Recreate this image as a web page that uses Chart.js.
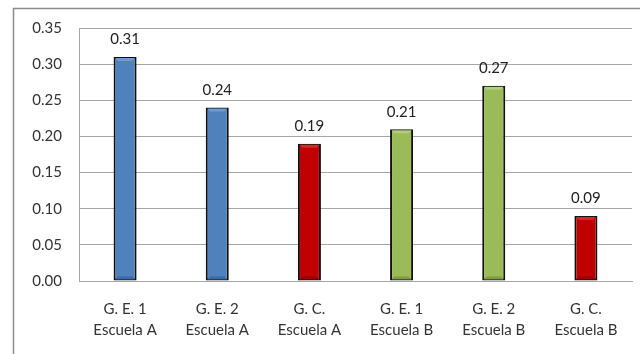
<!DOCTYPE html>
<html>
<head>
<meta charset="utf-8">
<script src="https://cdn.jsdelivr.net/npm/chart.js@4/dist/chart.umd.min.js"></script>
<style>
  html, body { margin: 0; padding: 0; background: #fff; }
  #wrap { position: relative; width: 640px; height: 354px; }
</style>
</head>
<body>
<div id="wrap"><canvas id="c" width="640" height="354"></canvas></div>
<script>
// Groups (two-line labels) and their measured proportions
const groups = [
  ['G. E. 1', 'Escuela A'],
  ['G. E. 2', 'Escuela A'],
  ['G. C.', 'Escuela A'],
  ['G. E. 1', 'Escuela B'],
  ['G. E. 2', 'Escuela B'],
  ['G. C.', 'Escuela B']
];
const values = [0.31, 0.24, 0.19, 0.21, 0.27, 0.09];
const groupKind = ['blue', 'blue', 'red', 'green', 'green', 'red'];

const palette = {
  blue:  { mid: '#4F81BD', edge: '#3A6AA8', light: '#6E9AD3' },
  red:   { mid: '#C00000', edge: '#9A0000', light: '#D22A2A' },
  green: { mid: '#9BBB59', edge: '#7E9C42', light: '#B2CE78' }
};

const FONT = 'Lato, "Open Sans", sans-serif';

// Horizontal gradient per bar, giving a soft bevelled look
function barFill(ctx) {
  const el = ctx.element;
  const kind = palette[groupKind[ctx.dataIndex]];
  if (!el || el.width === undefined || !isFinite(el.x)) return kind.mid;
  const g = ctx.chart.ctx.createLinearGradient(el.x - el.width / 2, 0, el.x + el.width / 2, 0);
  g.addColorStop(0, kind.edge);
  g.addColorStop(0.18, kind.mid);
  g.addColorStop(0.82, kind.mid);
  g.addColorStop(1, kind.edge);
  return g;
}

// Frame around the chart (left and top edges)
const framePlugin = {
  id: 'frame',
  beforeDraw(chart) {
    const c = chart.ctx;
    c.save();
    c.strokeStyle = '#8c8c8c';
    c.lineWidth = 1.5;
    c.beginPath();
    c.moveTo(13.5, 354);
    c.lineTo(13.5, 8.5);
    c.lineTo(640, 8.5);
    c.stroke();
    c.restore();
  }
};

// Value labels above each bar, plus top/bottom bevel shading
const labelPlugin = {
  id: 'valueLabels',
  afterDatasetsDraw(chart) {
    const c = chart.ctx;
    const meta = chart.getDatasetMeta(0);
    c.save();
    meta.data.forEach((bar, i) => {
      const kind = palette[groupKind[i]];
      const x0 = bar.x - bar.width / 2 + 1.5, x1 = bar.x + bar.width / 2 - 1.5;
      // light cap at the top
      c.fillStyle = kind.light;
      c.beginPath();
      c.moveTo(x0, bar.y + 1);
      c.lineTo(x1, bar.y + 1);
      c.lineTo(x1 - 3, bar.y + 4);
      c.lineTo(x0 + 3, bar.y + 4);
      c.closePath();
      c.fill();
      // darker foot at the base
      c.fillStyle = kind.edge;
      c.beginPath();
      c.moveTo(x0, bar.base - 1);
      c.lineTo(x1, bar.base - 1);
      c.lineTo(x1 - 3, bar.base - 4);
      c.lineTo(x0 + 3, bar.base - 4);
      c.closePath();
      c.fill();

      c.fillStyle = '#222';
      c.font = '15px ' + FONT;
      c.textAlign = 'center';
      c.textBaseline = 'bottom';
      c.fillText(values[i].toFixed(2), bar.x, bar.y - 10);
    });
    c.restore();
  }
};

new Chart(document.getElementById('c'), {
  type: 'bar',
  data: {
    labels: groups,
    datasets: [{
      data: values,
      backgroundColor: barFill,
      borderColor: '#111',
      borderWidth: 2,
      borderSkipped: false,
      categoryPercentage: 1,
      barPercentage: 0.25
    }]
  },
  options: {
    responsive: false,
    animation: false,
    devicePixelRatio: 1,
    layout: { padding: { top: 28, right: 8, left: 0, bottom: 0 } },
    plugins: { legend: { display: false }, tooltip: { enabled: false } },
    scales: {
      x: {
        grid: { display: false, drawTicks: false },
        border: { display: true, color: '#a6a6a6', width: 1 },
        ticks: {
          color: '#333',
          font: { family: FONT, size: 15, lineHeight: 1.4 },
          padding: 18,
          maxRotation: 0,
          autoSkip: false
        },
        afterFit(scale) { scale.height = 73; }
      },
      y: {
        min: 0,
        max: 0.35,
        grid: { color: '#a6a6a6', lineWidth: 1, drawTicks: false },
        border: { display: true, color: '#a6a6a6', width: 1 },
        ticks: {
          stepSize: 0.05,
          color: '#333',
          font: { family: FONT, size: 15 },
          padding: 17,
          callback: v => v.toFixed(2)
        },
        afterFit(scale) { scale.width = 79; }
      }
    }
  },
  plugins: [framePlugin, labelPlugin]
});
</script>
</body>
</html>
